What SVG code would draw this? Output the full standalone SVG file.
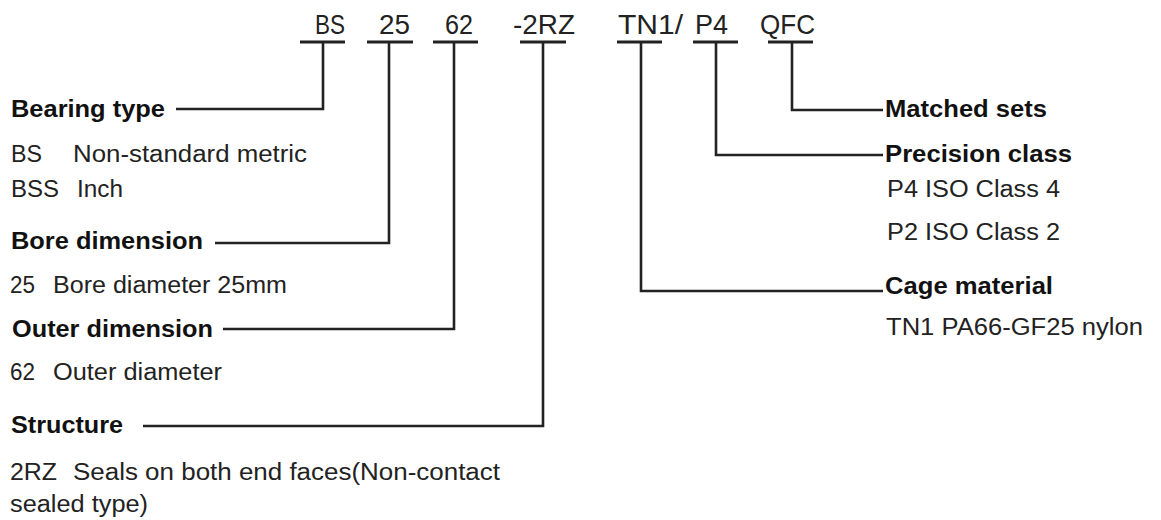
<svg xmlns="http://www.w3.org/2000/svg" width="1161" height="520" viewBox="0 0 1161 520">
<style>
.code{font-family:"Liberation Sans",Arial,sans-serif;font-size:28px;fill:#222;}
.h{font-family:"Liberation Sans",Arial,sans-serif;font-size:23px;font-weight:bold;fill:#111;}
.t{font-family:"Liberation Sans",Arial,sans-serif;font-size:23px;fill:#222;}
.ul{stroke:#222;stroke-width:3;fill:none;}
.ln{stroke:#222;stroke-width:2.6;fill:none;stroke-linejoin:miter;}
</style>
<rect width="1161" height="520" fill="#fff"/>
<g id="code">
<text class="code" x="315" y="34" textLength="30" lengthAdjust="spacingAndGlyphs">BS</text>
<text class="code" x="379" y="34" textLength="31" lengthAdjust="spacingAndGlyphs">25</text>
<text class="code" x="445" y="34" textLength="28" lengthAdjust="spacingAndGlyphs">62</text>
<text class="code" x="513" y="34" textLength="62" lengthAdjust="spacingAndGlyphs">-2RZ</text>
<text class="code" x="618" y="34" textLength="65" lengthAdjust="spacingAndGlyphs">TN1/</text>
<text class="code" x="695" y="34" textLength="33" lengthAdjust="spacingAndGlyphs">P4</text>
<text class="code" x="760" y="34" textLength="55" lengthAdjust="spacingAndGlyphs">QFC</text>
</g>
<g id="connectors">
<path class="ul" d="M300 42H345M367 42H413M433 42H478M520 42H566M617 42H662M693 42H738M768 42H813"/>
<path class="ln" d="M323 42V109H176"/>
<path class="ln" d="M389 42V243H215"/>
<path class="ln" d="M454 42V329H223"/>
<path class="ln" d="M543 42V426H143"/>
<path class="ln" d="M641 42V291H883"/>
<path class="ln" d="M716 42V155H883"/>
<path class="ln" d="M792 42V110H883"/>
</g>
<g id="bearing-type">
<text class="h" x="11" y="117" textLength="154" lengthAdjust="spacingAndGlyphs">Bearing type</text>
<text class="t" x="11" y="162" textLength="31" lengthAdjust="spacingAndGlyphs">BS</text>
<text class="t" x="73" y="162" textLength="234" lengthAdjust="spacingAndGlyphs">Non-standard metric</text>
<text class="t" x="11" y="197" textLength="48" lengthAdjust="spacingAndGlyphs">BSS</text>
<text class="t" x="77" y="197" textLength="46" lengthAdjust="spacingAndGlyphs">Inch</text>
</g>
<g id="bore-dimension">
<text class="h" x="11" y="249" textLength="192" lengthAdjust="spacingAndGlyphs">Bore dimension</text>
<text class="t" x="10" y="293" textLength="25" lengthAdjust="spacingAndGlyphs">25</text>
<text class="t" x="53" y="293" textLength="234" lengthAdjust="spacingAndGlyphs">Bore diameter 25mm</text>
</g>
<g id="outer-dimension">
<text class="h" x="12" y="337" textLength="201" lengthAdjust="spacingAndGlyphs">Outer dimension</text>
<text class="t" x="10" y="380" textLength="25" lengthAdjust="spacingAndGlyphs">62</text>
<text class="t" x="53" y="380" textLength="169" lengthAdjust="spacingAndGlyphs">Outer diameter</text>
</g>
<g id="structure">
<text class="h" x="11" y="433" textLength="112" lengthAdjust="spacingAndGlyphs">Structure</text>
<text class="t" x="10" y="480" textLength="47" lengthAdjust="spacingAndGlyphs">2RZ</text>
<text class="t" x="73" y="480" textLength="427" lengthAdjust="spacingAndGlyphs">Seals on both end faces(Non-contact</text>
<text class="t" x="10" y="512" textLength="138" lengthAdjust="spacingAndGlyphs">sealed type)</text>
</g>
<g id="matched-sets">
<text class="h" x="885" y="117" textLength="162" lengthAdjust="spacingAndGlyphs">Matched sets</text>
</g>
<g id="precision-class">
<text class="h" x="885" y="162" textLength="187" lengthAdjust="spacingAndGlyphs">Precision class</text>
<text class="t" x="887" y="197" textLength="173" lengthAdjust="spacingAndGlyphs">P4 ISO Class 4</text>
<text class="t" x="887" y="240" textLength="173" lengthAdjust="spacingAndGlyphs">P2 ISO Class 2</text>
</g>
<g id="cage-material">
<text class="h" x="885" y="294" textLength="168" lengthAdjust="spacingAndGlyphs">Cage material</text>
<text class="t" x="886" y="335" textLength="257" lengthAdjust="spacingAndGlyphs">TN1 PA66-GF25 nylon</text>
</g>
</svg>
